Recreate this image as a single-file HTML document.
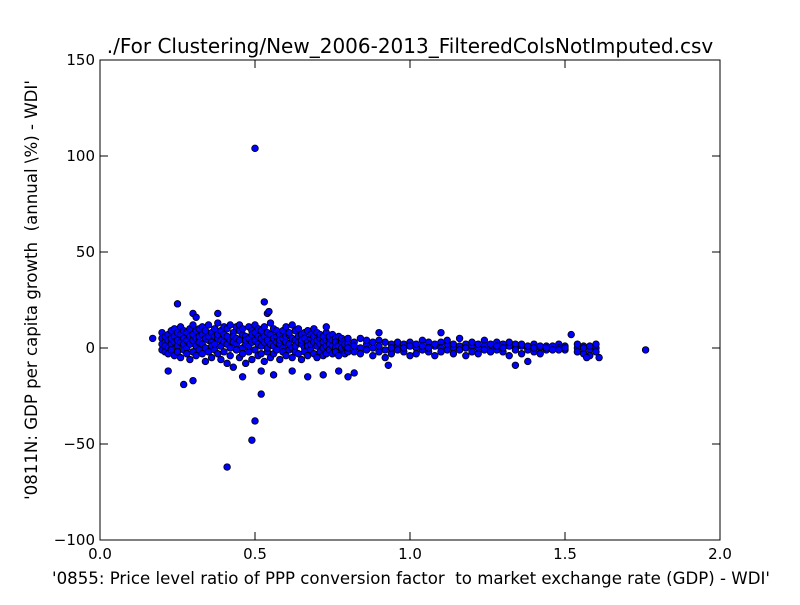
<!DOCTYPE html>
<html><head><meta charset="utf-8"><style>
html,body{margin:0;padding:0;background:#fff;}
svg text{font-family:"DejaVu Sans","Liberation Sans",sans-serif;fill:#000;white-space:pre;}
</style></head><body>
<svg id="chart" width="800" height="600" xmlns="http://www.w3.org/2000/svg">
<rect width="800" height="600" fill="#fff"/>
<text x="410" y="53" font-size="20" text-anchor="middle">./For Clustering/New_2006-2013_FilteredColsNotImputed.csv</text>
<g id="points"></g>
<rect x="100" y="60" width="620" height="480" fill="none" stroke="#000" stroke-width="1"/>
<g id="axes"></g>
<text x="411" y="584" font-size="16.6" text-anchor="middle" xml:space="preserve">'0855: Price level ratio of PPP conversion factor  to market exchange rate (GDP) - WDI'</text>
<text transform="translate(37,290) rotate(-90)" font-size="16.6" text-anchor="middle" xml:space="preserve">'0811N: GDP per capita growth  (annual \%) - WDI'</text>
</svg>
<script>
const xTicks=[0.0,0.5,1.0,1.5,2.0];
const xTickLabels=["0.0","0.5","1.0","1.5","2.0"];
const yTicks=[-100,-50,0,50,100,150];
const yTickLabels=["\u2212100","\u221250","0","50","100","150"];
const outlierX=[0.5,0.41,0.49,0.5,0.52,0.27,0.3,0.22,0.25,0.53,0.54,0.3,0.38,1.76,0.17,0.8,0.82,0.72,0.67,0.56,0.62,0.77,0.46,0.52,0.93,1.34,1.38,1.52,1.1,0.9,0.73,1.57,1.61,0.545,0.31];
const outlierY=[104,-62,-48,-38,-24,-19,-17,-12,23,24,18,18,18,-1,5,-15,-13,-14,-15,-14,-12,-12,-15,-12,-9,-9,-7,7,8,8,11,-5,-5,19,16];
const denseX=[0.20,0.21,0.22,0.23,0.24,0.25,0.26,0.27,0.28,0.29,0.30,0.31,0.32,0.33,0.34,0.35,0.36,0.37,0.38,0.39,0.40,0.41,0.42,0.43,0.44,0.45,0.46,0.47,0.48,0.49,0.50,0.51,0.52,0.53,0.54,0.55,0.56,0.57,0.58,0.59,0.60,0.61,0.62,0.63,0.64,0.65,0.66,0.67,0.68,0.69,0.70,0.71,0.72,0.73,0.74,0.75,0.76,0.77,0.78,0.79,0.80,
0.82,0.84,0.86,0.88,0.90,0.92,0.94,0.96,0.98,1.00,1.02,1.04,1.06,1.08,1.10,1.12,1.14,1.16,1.18,1.20,1.22,1.24,1.26,1.28,1.30,1.32,1.34,1.36,1.38,1.40,1.42,1.44,1.46,1.48,1.50,1.54,1.56,1.58,1.60];
const denseY=[[5,-1,2,8],[3,-2,6,1],[7,0,4,-3],[9,2,-1,5],[6,-4,3,10],[1,8,-2,4],[11,3,-5,7],[5,-1,9,2],[8,0,-3,4],[2,6,-6,10],[4,-2,12,7],[9,1,-4,5],[3,10,-1,6],[7,-3,2,11],[0,5,-7,9],[12,4,-2,6],[3,8,-5,1],[10,-1,6,2],[5,13,-3,7],[1,9,-6,4],[11,3,-2,7],[6,-8,2,10],[4,12,-4,0],[8,-10,3,6],[2,11,-1,5],[9,-5,4,12],[0,7,-3,10],[6,2,-8,4],[11,-2,5,1],[3,9,-6,7],[8,-1,4,12],[2,6,-4,10],[5,-3,9,1],[11,3,-7,6],[4,8,-2,0],[7,-5,2,13],[1,10,-3,5],[6,-1,3,9],[2,7,-6,4],[9,0,-2,5],[3,11,-4,6],[7,-1,2,8],[0,5,-5,12],[4,9,-2,1],[6,-3,3,10],[2,7,-6,4],[8,0,-2,5],[3,9,-4,1],[5,-1,7,2],[10,3,-3,6],[1,8,-5,4],[5,-2,2,7],[3,6,-4,0],[8,1,-3,4],[2,5,-1,6],[4,-3,7,1],[0,5,-2,3],[6,2,-4,1],[3,-1,5,0],[1,4,-3,2],[2,-2,5,0],
[3,-2,1],[5,0,-3],[2,-1,4],[0,3,-4],[4,-2,1],[-1,3,-5],[2,-3,0],[1,-1,3],[-2,2,0],[3,-4,1],[0,2,-3],[4,-1,1],[-2,3,0],[1,-4,2],[3,0,-2],[-1,2,4],[0,-3,2],[5,1,-1],[2,-4,0],[1,3,-2],[-3,0,2],[4,1,-1],[0,-2,2],[3,-1,1],[-2,2,0],[1,-4,3],[0,2,-1],[-3,1,2],[0,-1,1],[2,-2,0],[0,1,-3],[1,-1,0],[0,1,-1],[2,0,-1],[-1,1,0],[0,-2,2],[1,-3,0],[-1,1,-4],[0,-2,2]];
const NS="http://www.w3.org/2000/svg";
const sx=v=>100+v*310, sy=v=>540-(v+100)*1.92;
const pts=document.getElementById('points');
function dot(x,y){const c=document.createElementNS(NS,'circle');


c.setAttribute('cx',sx(x));c.setAttribute('cy',sy(y));c.setAttribute('r',3.3);
c.setAttribute('fill','#0000ff');c.setAttribute('stroke','#000');c.setAttribute('stroke-width','0.8');pts.appendChild(c);}
denseX.forEach((x,i)=>denseY[i].forEach(y=>dot(x,y)));
outlierX.forEach((x,i)=>dot(x,outlierY[i]));
const ax=document.getElementById('axes');
function el(t,a){const e=document.createElementNS(NS,t);for(const k in a)e.setAttribute(k,a[k]);ax.appendChild(e);return e;}
xTicks.forEach((v,i)=>{const X=sx(v);
const t1=el('line',{x1:X,x2:X,y1:540,y2:532,stroke:'#000'});
const t2=el('line',{x1:X,x2:X,y1:60,y2:68,stroke:'#000'});
const l=el('text',{x:X,y:559,'font-size':'15','text-anchor':'middle'});l.textContent=xTickLabels[i];
});
yTicks.forEach((v,i)=>{const Y=sy(v);
const t1=el('line',{x1:100,x2:108,y1:Y,y2:Y,stroke:'#000'});
const t2=el('line',{x1:712,x2:720,y1:Y,y2:Y,stroke:'#000'});
const l=el('text',{x:95,y:Y+5,'font-size':'15','text-anchor':'end'});l.textContent=yTickLabels[i];
});
</script>
</body></html>
